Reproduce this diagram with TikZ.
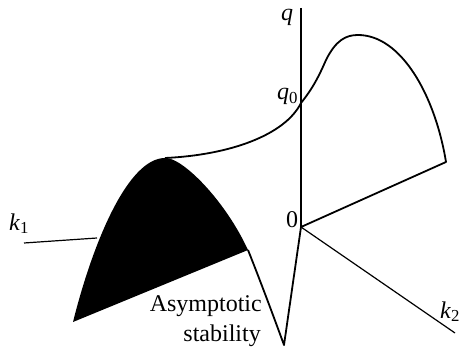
\documentclass[tikz,border=0pt]{standalone}
\usepackage{fontspec}
\setmainfont{Liberation Serif}
\begin{document}
\begin{tikzpicture}[x=1pt,y=-1pt,
  lbl/.style={inner sep=0pt,font=\fontsize{24}{24}\selectfont},
  thinline/.style={line width=1.2pt},
  surf/.style={line width=1.8pt,line join=round}]
\useasboundingbox (0,0) rectangle (462,347);
% named points
\coordinate (O) at (301,227);
\coordinate (qtop) at (301,8);
\coordinate (q0) at (301,103);
\coordinate (peak) at (165,158);
\coordinate (bl) at (73,322);
\coordinate (br) at (248,250);
\coordinate (vb) at (284,345);
\coordinate (rc) at (446,162);
\coordinate (k1e) at (24,243);
\coordinate (k1i) at (97,238);
\coordinate (k2e) at (455,333);
% axes
\draw[thinline] (k1e) -- (k1i);
\draw[thinline] (O) -- (k2e);
\draw[thinline] (qtop) -- (q0);
% black region
\fill[black] (bl) .. controls (93,242) and (128,158) .. (peak)
  .. controls (182,157) and (225,200) .. (br) -- cycle;
% surface edges
\draw[surf] (br) .. controls (258,275) and (272,312) .. (vb) -- (O) -- (q0);
\draw[surf] (peak) .. controls (230,155) and (285,135) .. (q0)
  .. controls (313,88) and (319,76) .. (326,60)
  .. controls (336,40) and (346,35) .. (358,35)
  .. controls (401,35) and (435,95) .. (rc) -- (O);
% labels
\node[lbl,anchor=base west] (lq) at (281,20.5) {\textit{q}};
\node[lbl,anchor=base west] (lq0) at (277,100) {\textit{q}\textsubscript{0}};
\node[lbl,anchor=base west] (l0) at (286,227) {0};
\node[lbl,anchor=base west] (lk1) at (9,230) {\textit{k}\textsubscript{1}};
\node[lbl,anchor=base west] (lk2) at (440,318) {\textit{k}\textsubscript{2}};
\node[lbl,anchor=base east] (la) at (262,311) {Asymptotic};
\node[lbl,anchor=base east] (ls) at (261,341) {stability};
\end{tikzpicture}
\end{document}
